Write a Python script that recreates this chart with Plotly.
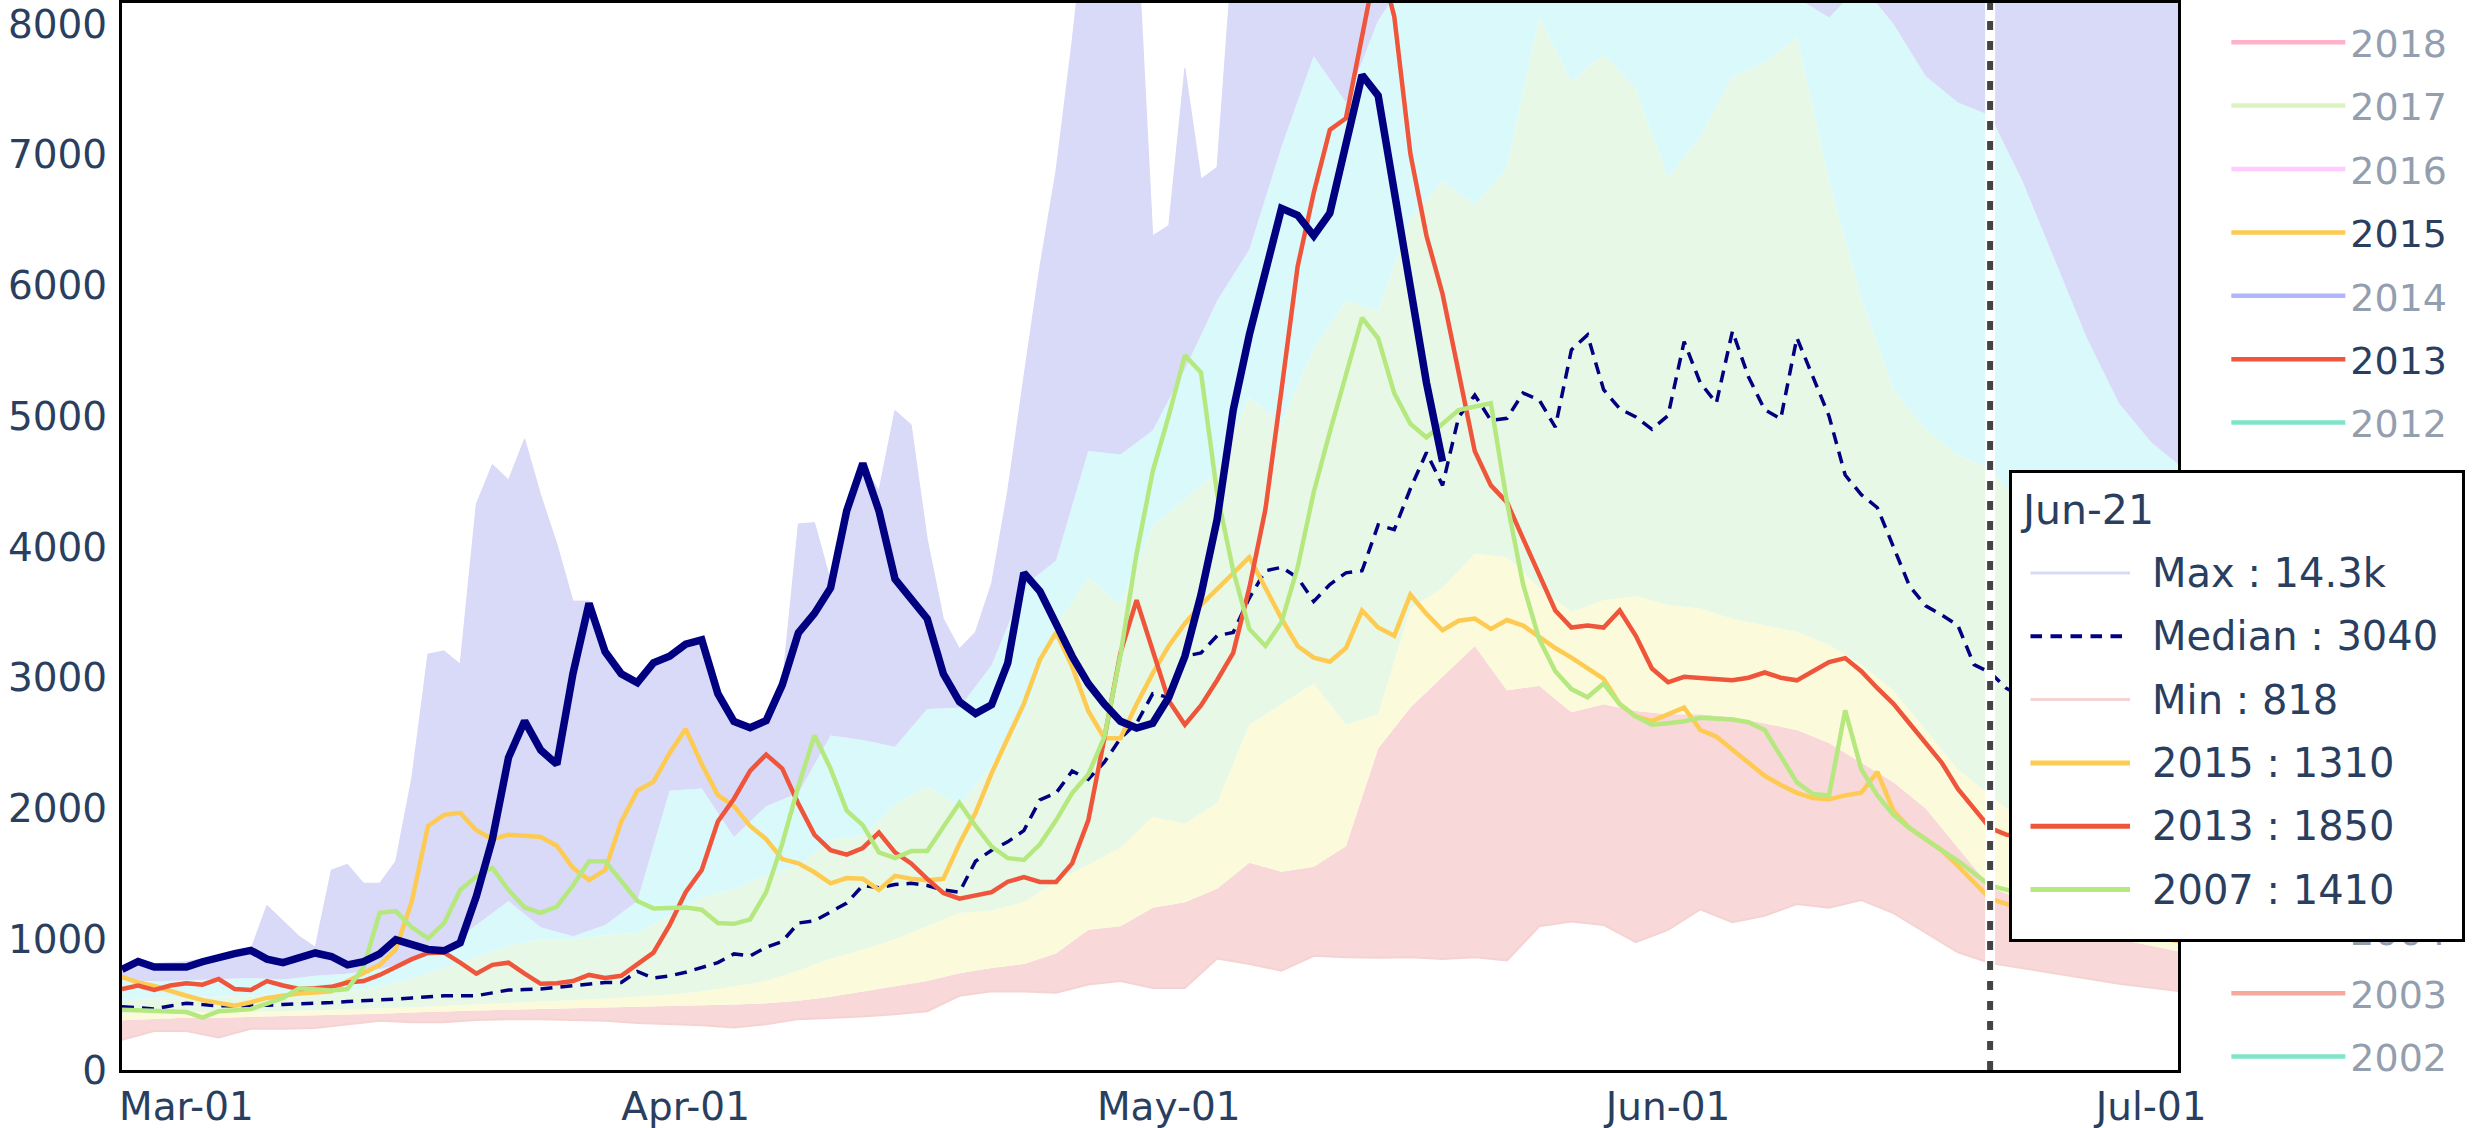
import datetime as dt
import plotly.graph_objects as go

# ---------------- data ----------------
START = dt.date(2019, 2, 25)
N_DAYS = 129
dates_daily = [START + dt.timedelta(days=i) for i in range(N_DAYS)]
dates_band = dates_daily[::2]
HOVER_DATE = dt.date(2019, 6, 21)

current_2019 = [770, 830, 787, 787, 787, 828, 865, 890, 915, 848,
                821, 858, 895, 868, 804, 828, 888, 996, 956, 922,
                912, 973, 1327, 1765, 2389, 2669, 2446, 2338, 3030, 3569,
                3198, 3030, 2962, 3114, 3165, 3256, 3289, 2878, 2665, 2618,
                2672, 2945, 3343, 3492, 3687, 4277, 4638, 4277, 3755, 3603,
                3451, 3030, 2817, 2726, 2794, 3112, 3802, 3661, 3399, 3164,
                2955, 2798, 2667, 2615, 2652, 2850, 3164, 3635, 4210, 5047,
                5622, 6092, 6589, 6537, 6380, 6553, 7060, 7609, 7452, 6720,
                5988, 5256, 4654]

y2015 = [713, 669, 642, 602, 568, 534, 511, 491, 518, 551,
         568, 585, 592, 602, 679, 737, 804, 922, 1293, 1866,
         1951, 1967, 1833, 1765, 1799, 1792, 1782, 1715, 1546, 1452,
         1529, 1900, 2136, 2203, 2423, 2608, 2338, 2102, 2018, 1866,
         1765, 1613, 1580, 1512, 1428, 1468, 1462, 1377, 1485, 1462,
         1452, 1462, 1731, 1967, 2271, 2537, 2800, 3138, 3347, 3086,
         2746, 2537, 2537, 2798, 3033, 3243, 3415, 3556, 3677, 3802,
         3922, 3687, 3452, 3243, 3154, 3122, 3227, 3514, 3384, 3321,
         3635, 3488, 3363, 3436, 3452, 3373, 3441, 3399, 3311, 3227,
         3154, 3070, 2992, 2798, 2704, 2668, 2720, 2772, 2600, 2550,
         2450, 2350, 2250, 2180, 2120, 2080, 2070, 2100, 2120, 2280,
         1980, 1850, 1760, 1680, 1560, 1440, 1310, 1270, 1230, 1200,
         1170, 1140, 1110, 1080, 1060, 1040, 1020, 1000, 980]

y2013 = [619, 646, 612, 646, 663, 652, 696, 619, 612, 680,
         646, 619, 625, 636, 669, 680, 727, 787, 848, 895,
         898, 821, 737, 804, 821, 737, 659, 663, 680, 727,
         703, 720, 804, 898, 1108, 1360, 1529, 1900, 2075, 2288,
         2413, 2305, 2035, 1799, 1681, 1647, 1698, 1816, 1664, 1580,
         1462, 1354, 1310, 1333, 1360, 1440, 1475, 1438, 1438, 1580,
         1909, 2537, 3190, 3593, 3216, 2824, 2641, 2788, 2981, 3190,
         3687, 4288, 5203, 6145, 6709, 7190, 7279, 7923, 8530, 8058,
         7008, 6380, 5935, 5334, 4733, 4471, 4341, 4064, 3792, 3514,
         3384, 3399, 3384, 3514, 3321, 3070, 2965, 3007, 2997, 2990,
         2980, 3000, 3040, 3000, 2980, 3050, 3120, 3150, 3050, 2920,
         2800, 2650, 2500, 2350, 2150, 2000, 1850, 1800, 1780, 1750,
         1720, 1700, 1680, 1650, 1620, 1600, 1580, 1560, 1540]

y2007 = [460, 457, 450, 447, 443, 400, 450, 457, 467, 507,
         551, 625, 619, 608, 619, 787, 1202, 1215, 1091, 1006,
         1124, 1377, 1479, 1546, 1377, 1243, 1202, 1249, 1411, 1597,
         1597, 1445, 1293, 1236, 1236, 1243, 1226, 1124, 1118, 1151,
         1360, 1731, 2170, 2558, 2305, 1984, 1873, 1664, 1620, 1674,
         1674, 1860, 2042, 1866, 1708, 1620, 1606, 1726, 1909, 2118,
         2260, 2547, 3175, 3948, 4576, 5005, 5465, 5334, 4409, 3818,
         3373, 3243, 3425, 3844, 4419, 4879, 5308, 5753, 5596, 5177,
         4942, 4837, 4942, 5047, 5073, 5099, 4341, 3713, 3295, 3049,
         2913, 2850, 2955, 2798, 2704, 2641, 2652, 2667, 2694, 2690,
         2680, 2660, 2600, 2400, 2200, 2110, 2100, 2750, 2300, 2100,
         1950, 1850, 1760, 1680, 1600, 1500, 1410, 1380, 1340, 1300,
         1270, 1240, 1210, 1180, 1150, 1130, 1110, 1090, 1070]

median = [484, 475, 467, 490, 511, 500, 491, 491, 491, 496,
          501, 505, 508, 516, 524, 529, 534, 542, 551, 560,
          568, 568, 568, 590, 612, 615, 619, 632, 646, 658,
          669, 669, 754, 703, 720, 747, 781, 821, 888, 872,
          939, 983, 1124, 1141, 1209, 1276, 1411, 1394, 1418, 1428,
          1411, 1377, 1360, 1597, 1681, 1745, 1831, 2066, 2118, 2286,
          2223, 2354, 2537, 2652, 2877, 2850, 3164, 3190, 3321, 3347,
          3609, 3818, 3844, 3766, 3583, 3713, 3802, 3818, 4168, 4132,
          4445, 4722, 4471, 4994, 5162, 4968, 4984, 5177, 5125, 4916,
          5507, 5622, 5203, 5057, 4994, 4900, 5005, 5570, 5256, 5100,
          5650, 5300, 5050, 4980, 5600, 5300, 5000, 4550, 4400, 4300,
          4000, 3700, 3550, 3480, 3400, 3100, 3040, 2920, 2850, 2800,
          2750, 2700, 2650, 2600, 2550, 2500, 2450, 2420, 2400]

maximum = [770, 830, 814, 820, 828, 850, 872, 895, 922, 1259,
           1141, 1023, 939, 1529, 1573, 1428, 1428, 1597, 2237, 3181,
           3205, 3104, 4328, 4631, 4513, 4827, 4395, 4024, 3586, 3586,
           3198, 3030, 2962, 3114, 3165, 3256, 3289, 2878, 2665, 2618,
           2672, 2945, 4176, 4186, 3738, 4260, 4638, 4429, 5043, 4935,
           4058, 3451, 3222, 3350, 3721, 4429, 5300, 6145, 6877, 7870,
           9000, 9500, 9200, 8800, 6380, 6458, 7661, 6814, 6903, 8600,
           9500, 10000, 10500, 11000, 11500, 12000, 12500, 13000, 13500, 14000,
           14500, 15000, 15200, 15500, 15800, 16000, 16200, 16000, 15800, 15500,
           15300, 15000, 14800, 14600, 14500, 14400, 14300, 14200, 14200, 14300,
           14400, 14500, 14600, 14700, 14800, 14700, 14600, 14500, 14400, 14300,
           14300, 14300, 14300, 14300, 14300, 14300, 14300, 14000, 13500, 13000,
           12500, 12000, 11500, 11000, 10500, 10000, 9500, 9000, 8500]

# percentile bands, every second day
minimum = [231, 298, 298, 248, 315, 315, 322, 349, 376, 366,
           366, 383, 389, 389, 383, 376, 359, 349, 342, 325,
           349, 389, 399, 410, 426, 450, 568, 602, 600, 591,
           654, 680, 628, 628, 853, 811, 759, 874, 863, 858,
           863, 848, 863, 837, 1099, 1135, 1109, 978, 1072, 1229,
           1130, 1180, 1270, 1240, 1300, 1200, 1050, 900, 818, 780,
           740, 700, 660, 630, 600]
p10 = [380, 390, 400, 400, 405, 410, 415, 420, 430, 440,
       450, 455, 460, 465, 470, 475, 480, 485, 490, 500,
       510, 530, 560, 600, 640, 680, 740, 780, 810, 890,
       1073, 1099, 1240, 1282, 1386, 1585, 1517, 1554, 1711, 2458,
       2772, 3007, 3243, 2903, 2939, 2735, 2798, 2746, 2720, 2720,
       2700, 2650, 2600, 2500, 2350, 2200, 2000, 1700, 1400, 1300,
       1200, 1100, 1000, 950, 900]
p25 = [440, 440, 445, 440, 445, 450, 455, 460, 470, 480,
       490, 500, 510, 520, 530, 545, 560, 575, 600, 640,
       680, 760, 850, 920, 1000, 1100, 1200, 1220, 1282, 1439,
       1569, 1700, 1935, 1883, 2040, 2641, 2798, 2955, 2641, 2720,
       3530, 3687, 3949, 3922, 3687, 3504, 3593, 3624, 3556, 3530,
       3450, 3400, 3350, 3250, 3100, 2900, 2600, 2300, 2100, 1900,
       1750, 1600, 1500, 1400, 1300]
p75 = [540, 550, 560, 560, 570, 580, 590, 600, 640, 700,
       780, 860, 950, 1000, 1000, 1030, 1050, 1180, 1320, 1380,
       1490, 1560, 1760, 1790, 2030, 2170, 2020, 2330, 2700, 3400,
       3765, 3556, 4158, 4367, 4576, 5151, 4942, 5517, 5883, 5805,
       6511, 6798, 6615, 6903, 8053, 7557, 7766, 7504, 6824, 7138,
       7600, 7700, 7900, 6800, 5900, 5200, 4900, 4700, 4600, 4300,
       4000, 3700, 3400, 3200, 3000]
p90 = [686, 679, 686, 693, 703, 693, 720, 737, 770, 838,
       922, 1108, 1293, 1091, 1023, 1108, 1293, 2136, 2153, 1782,
       2018, 2119, 2558, 2524, 2473, 2760, 2770, 3097, 3700, 3896,
       4733, 4707, 4890, 5360, 5883, 6275, 7060, 7755, 7400, 8027,
       8400, 8800, 9000, 9200, 9500, 9800, 9600, 9300, 9000, 8800,
       8700, 8500, 8200, 8050, 8300, 8000, 7600, 7400, 7300, 6800,
       6200, 5600, 5100, 4800, 4600]

legend_years = [2018, 2017, 2016, 2015, 2014, 2013, 2012, 2011, 2010, 2009,
                2008, 2007, 2006, 2005, 2004, 2003, 2002, 2001, 2000]
shown_years = {2015: y2015, 2013: y2013, 2007: y2007}
palette = ['#636EFA', '#EF553B', '#00CC96', '#AB63FA', '#FFA15A',
           '#19D3F3', '#FF6692', '#B6E880', '#FF97FF', '#FECB52']

# ---------------- styles ----------------
W, H = 2481, 1128
ML, MR, MT, MB = 122, 303, 3, 58
PW, PH = W - ML - MR, H - MT - MB
FONT = "Verdana, DejaVu Sans, sans-serif"
TXT = "#2a3f5f"
NAVY = "#000080"
LAV, CYAN, GREEN, YELLOW, PINK = "#D9D9F8", "#DAF9FB", "#E8F8E7", "#FBFBDB", "#F8D8D8"
MINC = "#F6D3D3"


def year_color(y):
    return palette[(2014 - y) % 10]


fig = go.Figure()

# bands (Min -> Max stacked with tonexty)
fig.add_trace(go.Scatter(x=dates_band, y=minimum, name="Min", mode="lines",
                         line=dict(color=MINC, width=2), legendrank=2000,
                         legendgroup="Min"))
for vals, col in [(p10, PINK), (p25, YELLOW), (p75, GREEN), (p90, CYAN)]:
    fig.add_trace(go.Scatter(x=dates_band, y=vals, mode="lines", line=dict(width=0, color=col),
                             fill="tonexty", fillcolor=col, showlegend=False, hoverinfo="skip"))
fig.add_trace(go.Scatter(x=dates_daily, y=maximum, name="Max", mode="lines",
                         line=dict(color=LAV, width=1), fill="tonexty", fillcolor=LAV,
                         legendrank=1998, legendgroup="Max"))
fig.add_trace(go.Scatter(x=dates_daily, y=median, name="Median", mode="lines",
                         line=dict(color=NAVY, width=3.5, dash="12px,8px"),
                         legendrank=1999, legendgroup="Median"))

for i, yr in enumerate(legend_years):
    if yr in shown_years:
        fig.add_trace(go.Scatter(x=dates_daily, y=shown_years[yr], name=str(yr), mode="lines",
                                 line=dict(color=year_color(yr), width=4.5),
                                 legendrank=i + 1, legendgroup=str(yr)))
    else:
        fig.add_trace(go.Scatter(x=[START], y=[None], name=str(yr), mode="lines",
                                 line=dict(color=year_color(yr), width=4.5),
                                 visible="legendonly", legendrank=i + 1, legendgroup=str(yr)))

fig.add_trace(go.Scatter(x=dates_daily[:len(current_2019)], y=current_2019, name="2019",
                         mode="lines", line=dict(color=NAVY, width=7.5),
                         legendrank=2001, legendgroup="2019"))

# ---------------- spike line at hover date ----------------
fig.add_shape(type="line", xref="x", yref="paper", x0=HOVER_DATE, x1=HOVER_DATE, y0=0, y1=1,
              line=dict(color="white", width=10), layer="above")
fig.add_shape(type="line", xref="x", yref="paper", x0=HOVER_DATE, x1=HOVER_DATE, y0=0, y1=1,
              line=dict(color="#444444", width=6, dash="9px,11px"), layer="above")


# ---------------- unified-hover style box ----------------
def pxx(x):
    return (x - ML) / PW


def pxy(y):
    return (H - MB - y) / PH


def fmt(v):
    if v >= 10000:
        return f"{v / 1000:.1f}k"
    return str(int(float(f"{v:.3g}")))


hi_d = (HOVER_DATE - START).days
hi_b = hi_d // 2
rows = [("Max", maximum[hi_d], LAV, 3, None),
        ("Median", median[hi_d], NAVY, 4, "dash"),
        ("Min", minimum[hi_b], MINC, 3, None),
        ("2015", y2015[hi_d], year_color(2015), 5, None),
        ("2013", y2013[hi_d], year_color(2013), 5, None),
        ("2007", y2007[hi_d], year_color(2007), 5, None)]

BOX_L, BOX_R, BOX_T, BOX_B = 2010, 2463, 472, 941
fig.add_annotation(xref="paper", yref="paper", x=pxx((BOX_L + BOX_R) / 2), y=pxy((BOX_T + BOX_B) / 2),
                   xanchor="center", yanchor="middle", text=" ", showarrow=False,
                   width=BOX_R - BOX_L - 3, height=BOX_B - BOX_T - 3, borderpad=0,
                   bgcolor="white", bordercolor="black", borderwidth=3)
fig.add_annotation(xref="paper", yref="paper", x=pxx(2018), y=pxy(510), xanchor="left",
                   yanchor="middle", text=HOVER_DATE.strftime("%b-%d"), showarrow=False,
                   font=dict(size=41, color=TXT, family=FONT))
SW_L, SW_R, TX_L = 2029, 2130, 2150
for k, (name, val, col, lw, dash) in enumerate(rows):
    yc = 573 + k * 63.3
    if dash:
        for j in range(5):
            x0 = SW_L + j * 20
            fig.add_annotation(xref="paper", yref="paper", x=pxx(x0 + 13), y=pxy(yc),
                               ax=-13, ay=0, text="", showarrow=True, arrowhead=0,
                               arrowwidth=lw, arrowcolor=col, standoff=0, startstandoff=0)
    else:
        fig.add_annotation(xref="paper", yref="paper", x=pxx(SW_R), y=pxy(yc),
                           ax=-(SW_R - SW_L), ay=0, text="", showarrow=True, arrowhead=0,
                           arrowwidth=lw, arrowcolor=col, standoff=0, startstandoff=0)
    fig.add_annotation(xref="paper", yref="paper", x=pxx(TX_L), y=pxy(yc), xanchor="left",
                       yanchor="middle", text=f"{name} : {fmt(val)}", showarrow=False,
                       font=dict(size=40, color=TXT, family=FONT))

# ---------------- layout ----------------
fig.update_layout(
    width=W, height=H,
    margin=dict(l=ML, r=MR, t=MT, b=MB, pad=0, autoexpand=False),
    paper_bgcolor="white", plot_bgcolor="white",
    font=dict(family=FONT, size=39, color=TXT),
    showlegend=True,
    legend=dict(x=1.0235, y=1 - 8 / PH, xanchor="left", yanchor="top", font=dict(size=38),
                tracegroupgap=11, itemwidth=114, bgcolor="rgba(0,0,0,0)"),
    hovermode="x unified",
    xaxis=dict(type="date", range=[dt.datetime(2019, 2, 25), dt.datetime(2019, 7, 2, 16)],
               tickformat="%b-%d", dtick="M1", tick0="2019-03-01", showgrid=False,
               zeroline=False, showline=True, linecolor="black", linewidth=3, mirror=True,
               ticks="", automargin=False),
    yaxis=dict(range=[0, 8160], dtick=1000, tickformat="d", showgrid=False, zeroline=False,
               showline=True, linecolor="black", linewidth=3, mirror=True, ticks="",
               automargin=False, ticklabelstandoff=4),
)

fig.write_html("out.html", config={"displayModeBar": False},
               post_script="document.body.style.margin='0px';")
